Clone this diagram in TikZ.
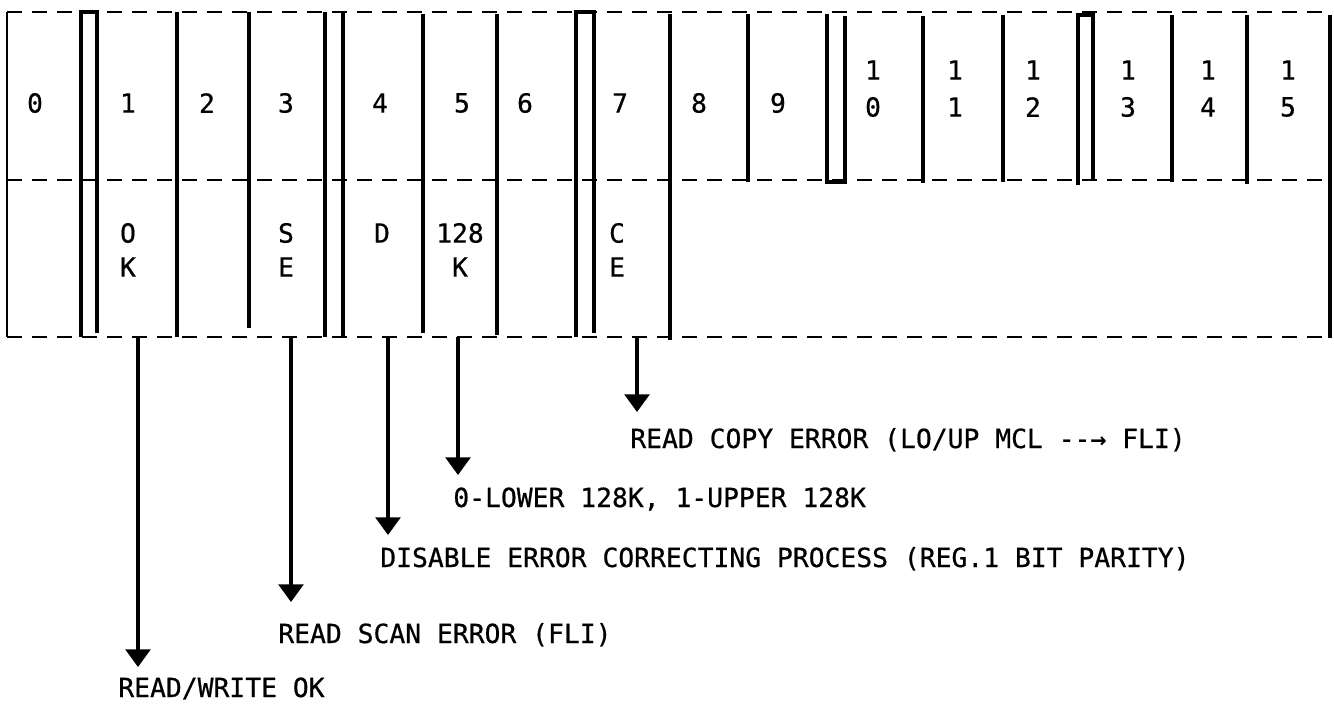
\documentclass[tikz,border=0pt]{standalone}
\usepackage{fontspec}
\usepackage{tikz}
\usetikzlibrary{arrows.meta}
\newfontfamily\regfont[FakeBold=0.6]{DejaVu Sans Mono}

\begin{document}
\begin{tikzpicture}[x=0.02cm,y=-0.02cm,
    dl/.style={line width=1.4pt,dash pattern=on 0.3cm off 0.2cm},
    wall/.style={line width=1.9pt},
    bit/.style={font=\regfont\fontsize{15}{18}\selectfont,inner sep=0pt},
    note/.style={bit,anchor=base west},
    sig/.style={line width=2pt,-{Triangle[width=14pt,length=10pt]}}]
  \useasboundingbox (0,0) rectangle (1334,704);

  % register frame: three dashed rows, solid cell walls
  \draw[dl] (7,12) -- (1330,12);
  \draw[dl] (7,180) -- (1330,180);
  \draw[dl] (7,337) -- (1330,337);
  \draw[line width=0.8pt] (7,12) -- (7,337);
  \foreach \x/\ya/\yb in {177/12/337, 249/12/328, 325/12/337, 343/12/337,
      423/14/333, 497/14/335, 670/14/340, 748/14/182, 923/16/183,
      1003/15/182, 1172/15/182, 1247/15/184, 1330/15/338}
    \draw[wall] (\x,\ya) -- (\x,\yb);
  \draw[wall] (81,337) -- (81,12) -- (97,12) -- (97,333);
  \draw[wall] (576,337) -- (576,12) -- (594,12) -- (594,333);
  \draw[wall] (1078,185) -- (1078,15) -- (1093,15) -- (1093,180);
  \draw[wall] (827,14) -- (827,182) -- (845,182) -- (845,16);

  % bit numbers
  \foreach \x/\n in {35/0,128/1,207/2,286/3,380/4,462/5,525/6,620/7,699/8,778/9}
    \node[bit] (b\n) at (\x,103) {\n};
  \foreach \x/\n/\d in {873/10/0,955/11/1,1033/12/2,1128/13/3,1208/14/4,1288/15/5}{
    \node[bit] (h\n) at (\x,70) {1};
    \node[bit] (b\n) at (\x,107) {\d};
  }

  % flag names
  \foreach \x/\a/\b/\n in {128/O/K/ok,286/S/E/se,460/128/K/kb,617/C/E/ce}{
    \node[bit] (\n1) at (\x,233) {\a};
    \node[bit] (\n2) at (\x,267) {\b};
  }
  \node[bit] (dis) at (382,233) {D};

  % meanings
  \node[note] (rw) at (118,697) {READ/WRITE OK};
  \node[note] (scan) at (278,643) {READ SCAN ERROR (FLI)};
  \node[note] (ecc) at (380,567) {DISABLE ERROR CORRECTING PROCESS (REG.1 BIT PARITY)};
  \node[note] (half) at (453,507) {0-LOWER 128K, 1-UPPER 128K};
  \node[note] (copy) at (630,448) {READ COPY ERROR (LO/UP MCL -{}-→ FLI)};

  \foreach \n/\x/\y in {1/138/667,3/291/602,4/388/535,5/458/475,7/637/412}{
    \coordinate (s\n) at (\x,337);
    \coordinate (t\n) at (\x,\y);
    \draw[sig] (s\n) -- (t\n);
  }
\end{tikzpicture}
\end{document}
